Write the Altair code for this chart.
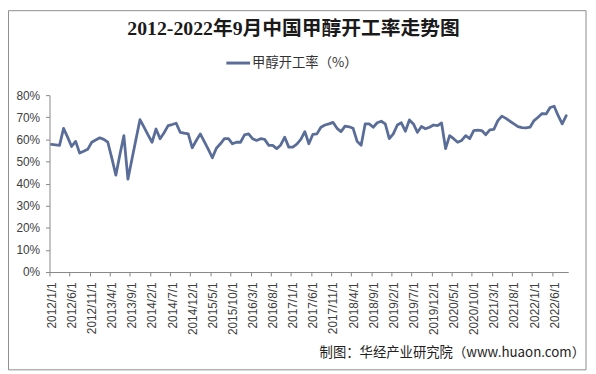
import altair as alt
import pandas as pd

# 甲醇开工率（%），2012/1 - 2022/9 monthly
rates = [
    57.7, 57.5, 57.3, 65.0, 61.0, 56.8, 59.1, 53.8, 54.6, 55.5,
    58.7, 59.7, 60.7, 60.0, 58.7, 51.5, 43.8, 53.0, 61.7, 42.0,
    51.0, 60.0, 68.9, 65.5, 62.0, 58.7, 64.7, 60.3, 63.0, 66.2,
    66.7, 67.3, 63.2, 62.8, 62.5, 56.2, 59.5, 62.5, 59.0, 55.5,
    51.7, 56.0, 58.0, 60.3, 60.3, 58.0, 58.7, 58.7, 62.0, 62.5,
    60.3, 59.5, 60.3, 60.0, 57.3, 57.3, 55.8, 57.5, 61.0, 56.5,
    56.5, 57.8, 60.0, 63.5, 58.0, 62.3, 62.5, 65.5, 66.5, 67.0,
    67.7, 65.0, 63.5, 66.0, 65.7, 65.0, 59.1, 57.3, 67.0, 67.0,
    65.5, 67.5, 68.2, 67.0, 60.3, 62.5, 66.5, 67.5, 63.7, 68.8,
    67.0, 63.2, 65.8, 64.8, 65.5, 66.5, 66.2, 67.4, 55.8, 61.7,
    60.3, 58.7, 59.5, 61.7, 60.3, 64.0, 64.2, 64.0, 62.1, 64.3,
    64.5, 68.5, 70.5, 69.5, 68.2, 67.0, 65.8, 65.3, 65.2, 65.5,
    68.5, 70.0, 71.7, 71.5, 74.4, 75.0, 70.7, 67.0, 70.7,
]

x_labels = [
    "2012/1/1", "2012/6/1", "2012/11/1", "2013/4/1", "2013/9/1", "2014/2/1",
    "2014/7/1", "2014/12/1", "2015/5/1", "2015/10/1", "2016/3/1", "2016/8/1",
    "2017/1/1", "2017/6/1", "2017/11/1", "2018/4/1", "2018/9/1", "2019/2/1",
    "2019/7/1", "2019/12/1", "2020/5/1", "2020/10/1", "2021/3/1", "2021/8/1",
    "2022/1/1", "2022/6/1",
]
y_ticks = [0, 10, 20, 30, 40, 50, 60, 70, 80]

title_text = "2012-2022年9月中国甲醇开工率走势图"
legend_text = "甲醇开工率（%）"
source_text = "制图：华经产业研究院（www.huaon.com）"

LINE = "#5a6d98"
AXIS = "#868686"
LABEL = "#404040"

df = pd.DataFrame({"idx": list(range(len(rates))), "rate": rates})
tick_idx = [k * 5 for k in range(len(x_labels))]
label_expr = "[" + ",".join("'%s'" % s for s in x_labels) + "][round(datum.value / 5)]"

line = alt.Chart(df).mark_line(
    color=LINE, strokeWidth=2.8, strokeJoin="round", strokeCap="round"
).encode(
    x=alt.X(
        "idx:Q",
        scale=alt.Scale(domain=[-0.5, len(rates) - 0.5], nice=False, zero=False),
        axis=alt.Axis(
            values=tick_idx, labelExpr=label_expr, labelAngle=270,
            tickOffset=-2, labelOffset=2, tickSize=4, labelPadding=6,
            labelFlush=False, labelOverlap=False, grid=False, title=None,
            domainColor=AXIS, tickColor=AXIS, labelColor=LABEL,
            labelFont="Liberation Sans", labelFontSize=12,
        ),
    ),
    y=alt.Y(
        "rate:Q",
        scale=alt.Scale(domain=[0, 80], nice=False),
        axis=alt.Axis(
            values=y_ticks, labelExpr="datum.value + '%'", tickSize=4,
            labelPadding=6, grid=False, title=None,
            domainColor=AXIS, tickColor=AXIS, labelColor=LABEL,
            labelFont="Liberation Sans", labelFontSize=12,
        ),
    ),
)

one = pd.DataFrame({"t": [title_text]})
title = alt.Chart(one).mark_text(
    font="'Liberation Serif', 'Noto Sans CJK SC'", fontSize=20, fontWeight="bold",
    color="#1a1a1a", align="center", baseline="middle",
).encode(text="t:N", x=alt.value(247), y=alt.value(-67))

leg_line = alt.Chart(one).mark_rule(color=LINE, strokeWidth=3).encode(
    x=alt.value(179), x2=alt.value(203), y=alt.value(-32.5)
)
leg_txt = alt.Chart(pd.DataFrame({"t": [legend_text]})).mark_text(
    font="Noto Sans CJK SC", fontSize=13.5, color="#333333", align="left", baseline="middle",
).encode(text="t:N", x=alt.value(205), y=alt.value(-32.5))

src = alt.Chart(pd.DataFrame({"t": [source_text]})).mark_text(
    font="Noto Sans CJK SC", fontSize=13.5, color="#222222", align="right", baseline="middle",
).encode(text="t:N", x=alt.value(542), y=alt.value(260.5))

border = alt.Chart(one).mark_rect(
    fillOpacity=0, stroke="#8c8c8c", strokeWidth=1
).encode(x=alt.value(-41.5), x2=alt.value(543), y=alt.value(-85.5), y2=alt.value(278))

chart = alt.layer(border, line, title, leg_line, leg_txt, src).properties(
    width=525, height=179,
    padding={"left": 42, "top": 86, "right": 20, "bottom": 101},
    autosize=alt.AutoSizeParams(type="none"),
).configure_view(stroke=None)

chart.save("out.html", embed_options={"renderer": "svg", "actions": False})
